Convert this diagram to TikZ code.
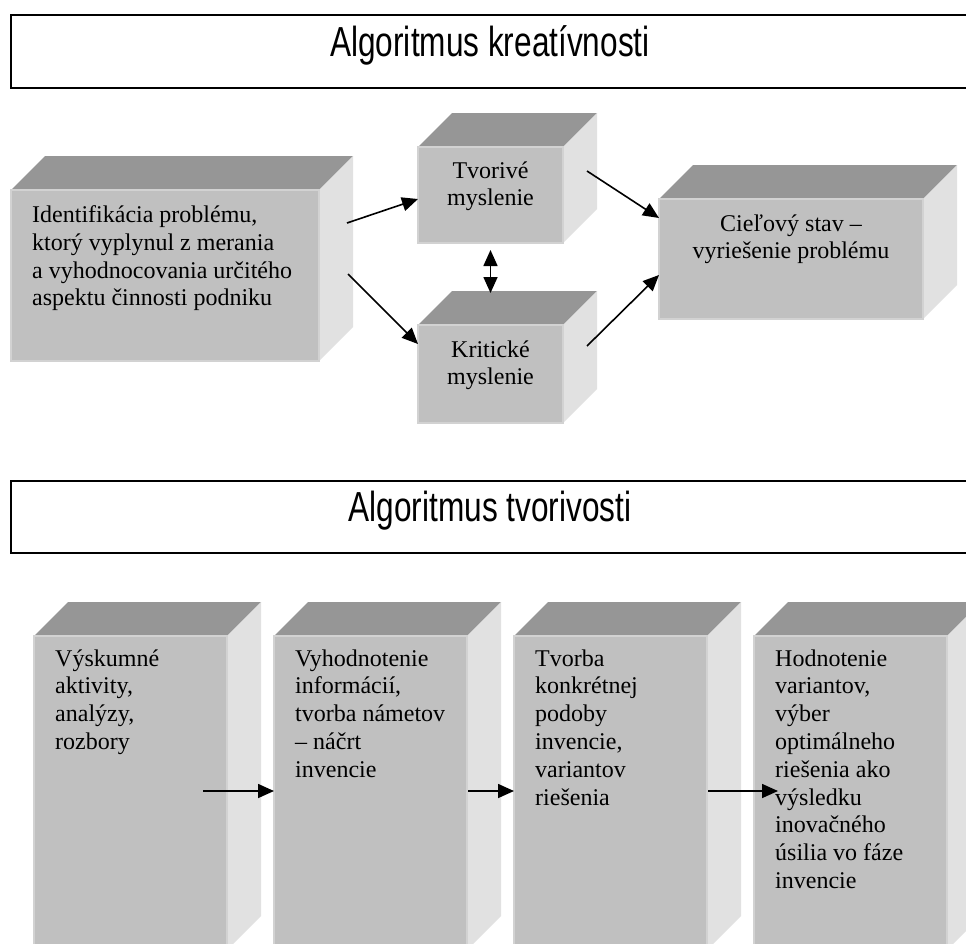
\documentclass[tikz,border=0pt]{standalone}
\usepackage{fontspec}
\usepackage{graphicx}
\setmainfont{Liberation Serif}
\newfontfamily\titlefont{Liberation Sans}
\usetikzlibrary{arrows.meta,calc}
\definecolor{topc}{RGB}{150,150,150}
\definecolor{frontc}{RGB}{192,192,192}
\definecolor{sidec}{RGB}{225,225,225}
\definecolor{edgec}{RGB}{210,210,210}
\newcommand{\mycube}[5]{%
  \fill[topc] (#2,#3) -- ({#2+34},{#3-34}) -- ({#4+34},{#3-34}) -- (#4,#3) -- cycle;
  \fill[sidec] (#4,#3) -- ({#4+34},{#3-34}) -- ({#4+34},{#5-34}) -- (#4,#5) -- cycle;
  \node[front, minimum width={#4-#2}, minimum height={#5-#3}] (#1) at ({(#2+#4)/2},{(#3+#5)/2}) {};
}
\newcommand{\boxtext}[1]{\fontsize{24}{27.8}\selectfont #1}
\begin{document}
\begin{tikzpicture}[x=1pt,y=-1pt,
  front/.style={draw=edgec, line width=1.2pt, fill=frontc, inner sep=0pt, outer sep=0pt},
  titlebox/.style={draw=black, line width=1.6pt, fill=white, inner sep=0pt},
  ttl/.style={anchor=base, inner sep=0pt},
  lbl/.style={inner sep=0pt},
  arr/.style={line width=1.6pt, -{Triangle[length=16pt,width=14pt]}},
  darr/.style={line width=1.6pt, {Triangle[length=16pt,width=14pt]}-{Triangle[length=16pt,width=14pt]}}]
\useasboundingbox (0,0) rectangle (966,943);
\clip (0,0) rectangle (966,943);
\fill[white] (0,0) rectangle (966,943);
% titles
\node[titlebox, minimum width=966, minimum height=73] (h1) at (494,51.5) {};
\node[ttl] (h1t) at (490,56) {\scalebox{0.752}[1]{\titlefont\fontsize{42}{50}\selectfont Algoritmus kreatívnosti}};
\node[titlebox, minimum width=966, minimum height=72] (h2) at (494,517) {};
\node[ttl] (h2t) at (490,521) {\scalebox{0.752}[1]{\titlefont\fontsize{42}{50}\selectfont Algoritmus tvorivosti}};
% top cubes
\mycube{f1}{11}{190}{319}{361}
\mycube{tv}{418}{147}{563}{243}
\mycube{kr}{418}{325}{563}{423}
\mycube{ci}{659}{199}{923}{319}
\node[lbl, anchor=base west] (f1t) at (32,222.5) {\parbox[t]{290pt}{\boxtext{\raggedright Identifikácia problému,\\ktorý vyplynul z merania\\a vyhodnocovania určitého\\aspektu činnosti podniku}}};
\node[lbl, anchor=base] (tvt) at (490.5,178) {\parbox[t]{140pt}{\boxtext{\centering Tvorivé\\myslenie}}};
\node[lbl, anchor=base] (krt) at (490.5,357) {\parbox[t]{140pt}{\boxtext{\centering Kritické\\myslenie}}};
\node[lbl, anchor=base] (cit) at (791,231) {\parbox[t]{260pt}{\boxtext{\centering Cieľový stav –\\vyriešenie problému}}};
% bottom cubes
\mycube{b1}{34}{636}{227}{950}
\mycube{b2}{274}{636}{467}{950}
\mycube{b3}{514}{636}{707}{950}
\mycube{b4}{754}{636}{947}{950}
\node[lbl, anchor=base west] (b1t) at (55,666) {\parbox[t]{170pt}{\boxtext{\raggedright Výskumné\\aktivity,\\analýzy,\\rozbory}}};
\node[lbl, anchor=base west] (b2t) at (295,666) {\parbox[t]{170pt}{\boxtext{\raggedright Vyhodnotenie\\informácií,\\tvorba námetov\\– náčrt\\invencie}}};
\node[lbl, anchor=base west] (b3t) at (535,666) {\parbox[t]{170pt}{\boxtext{\raggedright Tvorba\\konkrétnej\\podoby\\invencie,\\variantov\\riešenia}}};
\node[lbl, anchor=base west] (b4t) at (775,666) {\parbox[t]{170pt}{\boxtext{\raggedright Hodnotenie\\variantov,\\výber\\optimálneho\\riešenia ako\\výsledku\\inovačného\\úsilia vo fáze\\invencie}}};
% connectors top
\coordinate (s1) at (347,223);
\coordinate (s2) at (348,274);
\coordinate (s3) at (587,171);
\coordinate (s4) at (587,346);
\draw[arr] (s1) -- ([yshift=-4pt]tv.west);
\draw[arr] (s2) -- ([yshift=30pt]kr.west);
\draw[arr] (s3) -- ([yshift=41pt]ci.west);
\draw[arr] (s4) -- ([yshift=-16pt]ci.west);
\draw[darr] ([yshift=-7pt]tv.south) -- ([yshift=32pt]kr.north);
% connectors bottom
\coordinate (sb1) at (203,791);
\coordinate (sb2) at (468,791);
\coordinate (sb3) at (708,791);
\draw[arr] (sb1) -- (sb1 -| b2.west);
\draw[arr] (sb2) -- (sb2 -| b3.west);
\draw[arr] (sb3) -- ([xshift=24pt]sb3 -| b4.west);
\end{tikzpicture}
\end{document}
